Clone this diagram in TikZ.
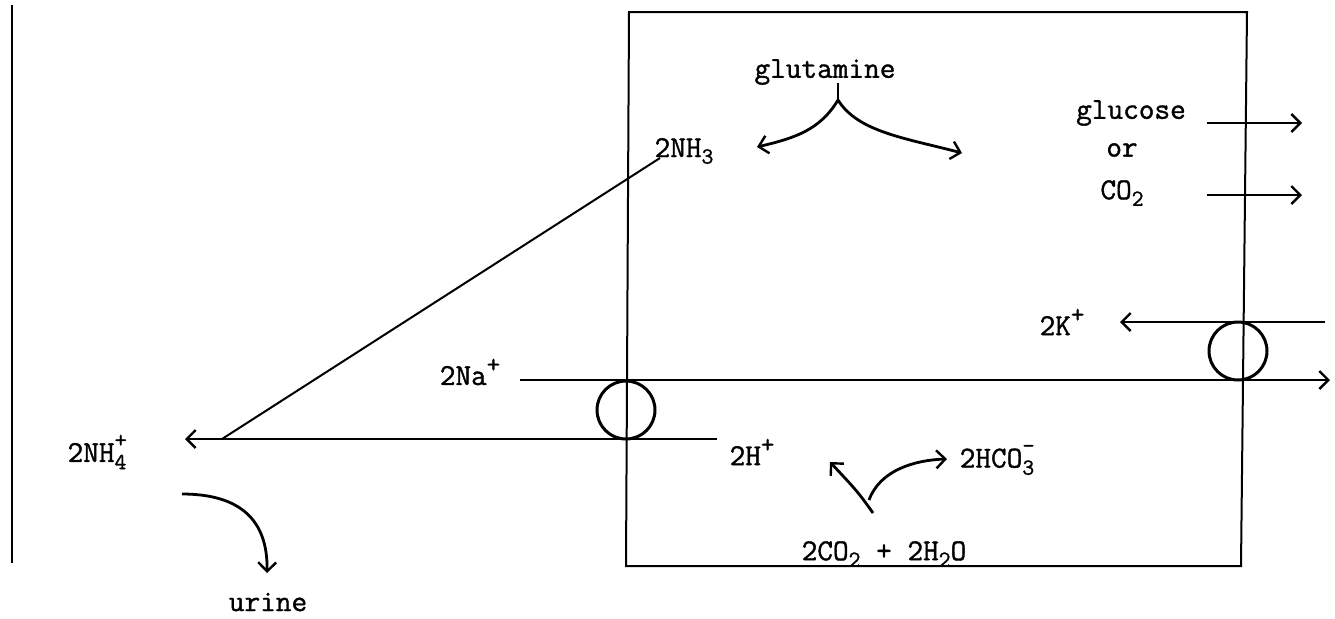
\documentclass[tikz,border=0pt]{standalone}
\usepackage{fontspec}
\newfontfamily\tw{Latin Modern Mono}[FakeBold=1.2]
\usetikzlibrary{arrows.meta}
\newcommand\mysub[1]{\raisebox{-0.5ex}{\fontsize{11.5}{11.5}\selectfont #1}}
\newcommand\mysup[1]{\raisebox{0.95ex}{\fontsize{13}{13}\selectfont #1}}
\newcommand\mystack[2]{\makebox[0pt][l]{\raisebox{1.1ex}{\fontsize{12}{12}\selectfont #1}}\raisebox{-0.55ex}{\fontsize{11.5}{11.5}\selectfont #2}}
\begin{document}
\begin{tikzpicture}[x=0.5pt,y=-0.5pt,
  line/.style={line width=1pt,black},
  arr/.style={line width=1.2pt,-{Straight Barb[length=4.5pt,width=9pt,line width=1.2pt]}},
  lbl/.style={font=\tw\fontsize{15.2}{18}\selectfont,inner sep=0pt}]
\useasboundingbox (0,0) rectangle (1335,618);
% walls
\coordinate (wt) at (12,5); \coordinate (wb) at (12,563);
\draw[line,line width=1.2pt] (wt) -- (wb);
\coordinate (b1) at (629,12); \coordinate (b2) at (1247,12);
\coordinate (b3) at (1241,566); \coordinate (b4) at (626,566);
\draw[line] (b1) -- (b2) -- (b3) -- (b4) -- cycle;
% carriers
\node[draw,circle,line width=1.5pt,minimum size=29pt,inner sep=0pt] (c1) at (626,410) {};
\node[draw,circle,line width=1.5pt,minimum size=29pt,inner sep=0pt] (c2) at (1238,351) {};
% labels
\node[lbl] (glut) at (825,72) {glutamine};
\node[lbl] (nh3) at (684,151) {2NH\mysub{3}};
\node[lbl] (gluc) at (1131,113) {glucose};
\node[lbl] (or) at (1122,150) {or};
\node[lbl] (co2) at (1122,193) {CO\mysub{2}};
\node[lbl] (k) at (1062,322) {2K\mysup{+}};
\node[lbl] (na) at (470,372) {2Na\mysup{+}};
\node[lbl] (nh4) at (97,452) {2NH\mystack{+}{4}};
\node[lbl] (h) at (752,452) {2H\mysup{+}};
\node[lbl] (hco3) at (997,460) {2HCO\mystack{-}{3}};
\node[lbl] (react) at (884,554) {2CO\mysub{2} + 2H\mysub{2}O};
\node[lbl] (urine) at (268,602) {urine};
% coordinates
\coordinate (naS) at (520,380); \coordinate (naE) at (1330,380);
\coordinate (hS) at (717,439); \coordinate (hE) at (185,439);
\coordinate (kS) at (1325,322); \coordinate (kE) at (1120,322);
\coordinate (dS) at (660,158); \coordinate (dE) at (222,439);
\coordinate (g1S) at (1207,123); \coordinate (g1E) at (1302,123);
\coordinate (g2S) at (1207,195); \coordinate (g2E) at (1302,195);
\coordinate (gt) at (838,83); \coordinate (gb) at (838,100);
\coordinate (gl) at (757,147); \coordinate (gr) at (962,153);
\coordinate (rb) at (873,513); \coordinate (rm) at (869,500);
\coordinate (rl) at (830,462); \coordinate (rr) at (947,459);
\coordinate (uS) at (182,494); \coordinate (uE) at (267,573);
% connectors
\draw[arr] (naS) -- (naE);
\draw[arr] (hS) -- (hE);
\draw[arr] (kS) -- (kE);
\draw[line] (dS) -- (dE);
\draw[arr] (g1S) -- (g1E);
\draw[arr] (g2S) -- (g2E);
\draw[line width=1.4pt] (gt) -- (gb);
\draw[arr,line width=1.4pt] (gb) .. controls (820,130) and (795,138) .. (gl);
\draw[arr,line width=1.4pt] (gb) .. controls (858,132) and (905,138) .. (gr);
\draw[arr,line width=1.4pt] (rb) .. controls (858,492) .. (rl);
\draw[arr,line width=1.4pt] (rm) .. controls (880,470) and (915,460) .. (rr);
\draw[arr,line width=1.4pt] (uS) .. controls (240,494) and (268,520) .. (uE);
\end{tikzpicture}
\end{document}
